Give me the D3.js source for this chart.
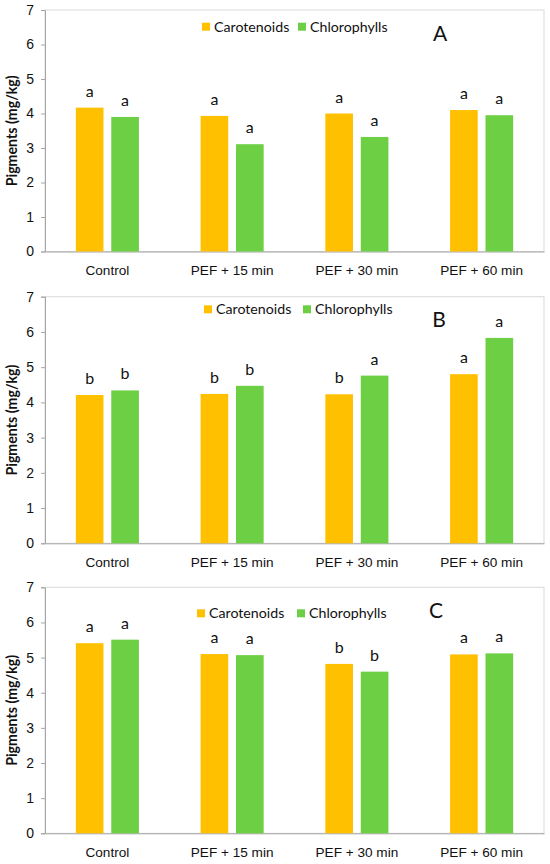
<!DOCTYPE html>
<html>
<head>
<meta charset="utf-8">
<script src="https://cdn.jsdelivr.net/npm/d3@7"></script>
<style>
  html, body { margin: 0; padding: 0; background: #fff; }
  svg { display: block; font-family: Lato, "Open Sans", sans-serif; }
</style>
</head>
<body>
<svg id="chart" width="550" height="864"></svg>
<script>
const categories = ["Control", "PEF + 15 min", "PEF + 30 min", "PEF + 60 min"];
const seriesNames = ["Carotenoids", "Chlorophylls"];
const yTicks = [0, 1, 2, 3, 4, 5, 6, 7];

// panel A
const carotenoidsA = [4.17, 3.93, 4.00, 4.10];
const chlorophyllsA = [3.90, 3.11, 3.32, 3.95];
const lettersCarotA = ["a", "a", "a", "a"];
const lettersChlA = ["a", "a", "a", "a"];
// panel B
const carotenoidsB = [4.21, 4.24, 4.23, 4.80];
const chlorophyllsB = [4.34, 4.47, 4.76, 5.83];
const lettersCarotB = ["b", "b", "b", "a"];
const lettersChlB = ["b", "b", "a", "a"];
// panel C
const carotenoidsC = [5.41, 5.10, 4.82, 5.09];
const chlorophyllsC = [5.51, 5.07, 4.60, 5.12];
const lettersCarotC = ["a", "a", "b", "a"];
const lettersChlC = ["a", "a", "b", "a"];

const COLORS = { Carotenoids: "#FFC000", Chlorophylls: "#6DD044" };
const INK = "#111";

// layout of each panel (pixel positions only)
const panels = [
  { tag: "A", carot: carotenoidsA, chl: chlorophyllsA, lc: lettersCarotA, lh: lettersChlA,
    top: 10, bottom: 251.5, legend: [202, 298, 26.7], tagPos: [440, 33] },
  { tag: "B", carot: carotenoidsB, chl: chlorophyllsB, lc: lettersCarotB, lh: lettersChlB,
    top: 296.7, bottom: 543.3, legend: [204, 303, 309.3], tagPos: [439, 319] },
  { tag: "C", carot: carotenoidsC, chl: chlorophyllsC, lc: lettersCarotC, lh: lettersChlC,
    top: 587.3, bottom: 833.3, legend: [197, 297, 613.3], tagPos: [436, 610] },
];

const LEFT = 45, RIGHT = 544;
const svg = d3.select("#chart");

const x0 = d3.scaleBand().domain(categories).range([LEFT, RIGHT]).padding(0);
const x1 = d3.scaleBand().domain(seriesNames).range([0, x0.bandwidth()])
  .paddingInner(0.22).paddingOuter(0.87);

panels.forEach(p => {
  const y = d3.scaleLinear().domain([0, 7]).range([p.bottom, p.top]);
  const g = svg.append("g");

  // plot area border
  g.append("rect")
    .attr("x", LEFT).attr("y", p.top)
    .attr("width", RIGHT - LEFT).attr("height", p.bottom - p.top)
    .attr("fill", "none").attr("stroke", "#d9d9d9").attr("stroke-width", 1);

  // y axis
  const yAxis = g.append("g")
    .attr("transform", `translate(${LEFT},0)`)
    .call(d3.axisLeft(y).tickValues(yTicks).tickSize(4).tickPadding(7).tickFormat(d3.format("d")));
  yAxis.select(".domain").attr("stroke", "#a6a6a6");
  yAxis.selectAll(".tick line").attr("stroke", "#a6a6a6");
  yAxis.selectAll(".tick text").attr("font-size", 14).attr("fill", INK);

  // x axis
  const xAxis = g.append("g")
    .attr("transform", `translate(0,${p.bottom})`)
    .call(d3.axisBottom(x0).tickSize(0).tickPadding(14));
  xAxis.select(".domain").attr("stroke", "#a6a6a6");
  xAxis.selectAll(".tick text").attr("font-size", 13.6).attr("fill", INK);

  // y title
  g.append("text")
    .attr("transform", `translate(17,${(p.top + p.bottom) / 2}) rotate(-90)`)
    .attr("text-anchor", "middle")
    .attr("font-size", 14.2).attr("font-weight", "bold").attr("fill", INK)
    .text("Pigments (mg/kg)");

  const rows = categories.map((c, i) => ({
    cat: c,
    vals: [
      { s: "Carotenoids", v: p.carot[i], l: p.lc[i] },
      { s: "Chlorophylls", v: p.chl[i], l: p.lh[i] },
    ],
  }));

  const grp = g.selectAll(".grp").data(rows).join("g")
    .attr("transform", d => `translate(${x0(d.cat)},0)`);

  grp.selectAll("rect").data(d => d.vals).join("rect")
    .attr("x", d => x1(d.s))
    .attr("width", x1.bandwidth())
    .attr("y", d => y(d.v))
    .attr("height", d => p.bottom - y(d.v))
    .attr("fill", d => COLORS[d.s]);

  grp.selectAll("text.lbl").data(d => d.vals).join("text")
    .attr("class", "lbl")
    .attr("x", d => x1(d.s) + x1.bandwidth() / 2)
    .attr("y", d => y(d.v) - 11)
    .attr("text-anchor", "middle")
    .attr("font-size", 16).attr("fill", INK)
    .text(d => d.l);

  // legend
  seriesNames.forEach((s, i) => {
    const lx = p.legend[i], ly = p.legend[2];
    g.append("rect").attr("x", lx).attr("y", ly - 4).attr("width", 8).attr("height", 8)
      .attr("fill", COLORS[s]);
    g.append("text").attr("x", lx + 12).attr("y", ly).attr("dy", "0.35em")
      .attr("font-size", 14.2).attr("fill", INK).text(s);
  });

  // panel tag
  g.append("text").attr("x", p.tagPos[0]).attr("y", p.tagPos[1]).attr("dy", "0.36em")
    .attr("text-anchor", "middle").attr("font-size", 21).attr("fill", INK)
    .text(p.tag);
});
</script>
</body>
</html>
